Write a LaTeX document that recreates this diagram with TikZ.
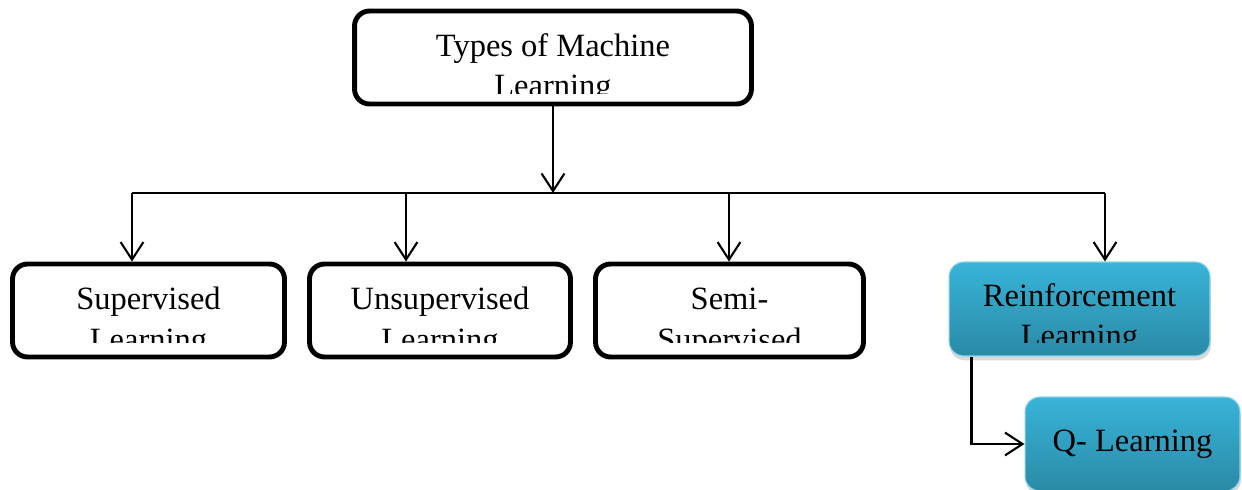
\documentclass[tikz,border=0pt]{standalone}
\usepackage{fontspec}
\setmainfont{Liberation Serif}
\usetikzlibrary{arrows.meta, positioning, calc, shadows}

\definecolor{tealtop}{HTML}{38B4D8}
\definecolor{tealbot}{HTML}{2A8AA6}

\begin{document}
\begin{tikzpicture}[x=0.02cm, y=-0.02cm,
    box/.style={draw, line width=2.8pt, rounded corners=0.3cm, fill=white, inner sep=0pt, minimum height=1.86cm},
    tealbox/.style={draw=tealtop!60!white, line width=0.6pt, rounded corners=0.3cm, top color=tealtop, bottom color=tealbot,
        inner sep=0pt, minimum height=1.88cm, font=\fontsize{18.5}{22.8}\selectfont,
        drop shadow={shadow xshift=0.5pt, shadow yshift=-2.5pt, opacity=0.3}},
    lbl/.style={align=center, inner sep=0pt, font=\fontsize{18.5}{22.8}\selectfont},
    line/.style={line width=1.2pt},
    >={Straight Barb[length=10pt, width=13pt]}]

\useasboundingbox (0,0) rectangle (1242,490);

% Oberer Knoten
\node[box, minimum width=7.94cm] (types) at (553,57.5) {};
\begin{scope}
  \clip (types.north west) rectangle ([yshift=0.25cm]types.south east);
  \node[lbl, anchor=base] (typestext) at ([yshift=-1.76cm]types.north) {Types of Machine\\Learning};
\end{scope}

% Untere Knoten
\node[box, minimum width=5.44cm] (sup) at (148.5,310.5) {};
\node[box, minimum width=5.22cm] (unsup) at (440,310.5) {};
\node[box, minimum width=5.36cm] (semi) at (729.5,310.5) {};
\node[tealbox, minimum width=5.22cm] (reinf) at (1079.5,309) {};
\node[tealbox, minimum width=4.3cm, text height=1.1em, text depth=0.22em] (ql) at (1132.5,444) {Q- Learning};

\begin{scope}
  \clip (sup.north west) rectangle ([yshift=0.34cm]sup.south east);
  \node[lbl, anchor=base] (suptext) at ([yshift=-1.77cm]sup.north) {Supervised\\Learning};
\end{scope}
\begin{scope}
  \clip (unsup.north west) rectangle ([yshift=0.34cm]unsup.south east);
  \node[lbl, anchor=base] (unsuptext) at ([yshift=-1.77cm]unsup.north) {Unsupervised\\Learning};
\end{scope}
\begin{scope}
  \clip (semi.north west) rectangle ([yshift=0.34cm]semi.south east);
  \node[lbl, anchor=base] (semitext) at ([yshift=-1.77cm]semi.north) {Semi-\\Supervised};
\end{scope}
\begin{scope}
  \clip (reinf.north west) rectangle ([yshift=0.28cm]reinf.south east);
  \node[lbl, anchor=base] (reinftext) at ([yshift=-1.7cm]reinf.north) {Reinforcement\\Learning};
\end{scope}

% Pfeile
\coordinate (bus) at (553,193);
\coordinate (b1) at (132,193);
\coordinate (b2) at (406,193);
\coordinate (b3) at (729,193);
\coordinate (b4) at (1105,193);

\draw[line, ->] (types) -- (bus);
\draw[line] (b1) -- (b4);
\draw[line, ->] (b1) -- (b1 |- sup.north);
\draw[line, ->] (b2) -- (b2 |- unsup.north);
\draw[line, ->] (b3) -- (b3 |- semi.north);
\draw[line, ->] (b4) -- (b4 |- reinf.north);
\draw[line, ->] ([xshift=0.46cm]reinf.south west) |- (ql.west);

\end{tikzpicture}
\end{document}
